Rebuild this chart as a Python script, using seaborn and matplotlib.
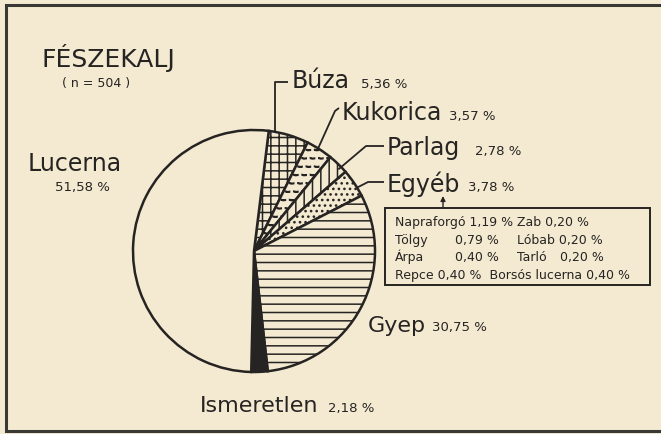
import numpy as np
import matplotlib
matplotlib.use("Agg")
import matplotlib.pyplot as plt
import matplotlib.hatch as mhatch
from matplotlib.path import Path
from matplotlib.patches import Rectangle
import seaborn as sns

# ---------------- data ----------------
categories = ["Búza", "Kukorica", "Parlag", "Egyéb", "Gyep", "Ismeretlen", "Lucerna"]
values = [5.36, 3.57, 2.78, 3.78, 30.75, 2.18, 51.58]
value_labels = ["5,36 %", "3,57 %", "2,78 %", "3,78 %", "30,75 %", "2,18 %", "51,58 %"]
other_names = ["Napraforgó", "Tölgy", "Árpa", "Repce", "Zab", "Lóbab", "Tarló", "Borsós lucerna"]
other_labels = ["1,19 %", "0,79 %", "0,40 %", "0,40 %", "0,20 %", "0,20 %", "0,20 %", "0,40 %"]
title = "FÉSZEKALJ"
subtitle = "( n = 504 )"

# ---------------- style ----------------
sns.set_theme(style="white")
BG = "#f4ead2"
INK = "#262422"
plt.rcParams["font.family"] = ["DejaVu Sans"]
plt.rcParams["hatch.linewidth"] = 1.1
plt.rcParams["hatch.color"] = INK


# custom "short dash" hatch used for the Kukorica wedge (replaces the star hatch)
class DashHatch(mhatch.Shapes):
    filled = True
    size = 0.5

    def __init__(self, hatch, density):
        self.num_rows = int(hatch.count("*") * density)
        self.shape_vertices = np.array([[-0.5, -0.02], [-0.1, -0.14], [0.5, -0.08],
                                        [0.5, 0.06], [0.1, 0.0], [-0.5, 0.12],
                                        [-0.5, -0.02]])
        self.shape_codes = np.array([Path.MOVETO] + [Path.LINETO] * 5 + [Path.CLOSEPOLY],
                                    dtype=Path.code_type)
        super().__init__(hatch, density)


mhatch._hatch_types = [DashHatch if t is mhatch.Stars else t for t in mhatch._hatch_types]

W, H = 661, 434
fig = plt.figure(figsize=(W / 100, H / 100), dpi=100, facecolor=BG)
ax = fig.add_axes([0, 0, 1, 1])
ax.set_facecolor(BG)


def Y(y):
    return H - y


CX, CY, R = 254, Y(251), 121
fills = [BG, BG, BG, BG, BG, INK, BG]
hatches = ["++", "**", "||", "...", "--", None, None]

wedges, _ = ax.pie(values, colors=fills, startangle=83, counterclock=False,
                   center=(CX, CY), radius=R,
                   wedgeprops=dict(edgecolor=INK, linewidth=1.8))
for w, h in zip(wedges, hatches):
    if h:
        w.set_hatch(h)

ax.set_xlim(0, W)
ax.set_ylim(0, H)
ax.set_aspect("equal")
ax.axis("off")


def wedge_point(i, frac, rfac=1.0):
    w = wedges[i]
    t = np.deg2rad(w.theta1 + frac * (w.theta2 - w.theta1))
    return CX + R * rfac * np.cos(t), CY + R * rfac * np.sin(t)


small = dict(fontsize=9.5, color=INK)

# leader lines: (wedge, fraction along wedge, radius factor, path in image coords)
leaders = [
    (0, 0.84, 1.0, [("s", 82), (288, 82)]),
    (1, 0.55, 0.99, [(335, 111), (339, 108)]),
    (2, 0.32, 0.97, [(366, 146), (384, 146)]),
    (3, 0.32, 1.0, [(368, 182), (384, 182)]),
]
for i, frac, rf, pts in leaders:
    sx, sy = wedge_point(i, frac, rf)
    xs, ys = [sx], [sy]
    for px, py in pts:
        xs.append(sx if px == "s" else px)
        ys.append(Y(py))
    ax.plot(xs, ys, color=INK, lw=1.3, solid_capstyle="butt")

# labels: name x, name baseline, pct x, pct baseline, name font size
label_pos = {
    0: (292, 88, 361, 88, 17),
    1: (342, 120, 449, 120, 17),
    2: (387, 155, 475, 155, 17),
    3: (387, 192, 468, 191, 17),
    4: (368, 332, 432, 331, 16),
    5: (200, 412, 328, 412, 16),
}
for i, (nx, ny, px, py, fs) in label_pos.items():
    ax.text(nx, Y(ny), categories[i], va="baseline", ha="left", fontsize=fs, color=INK)
    ax.text(px, Y(py), value_labels[i], va="baseline", ha="left", **small)

# Lucerna
ax.text(28, Y(171), categories[6], va="baseline", ha="left", fontsize=17, color=INK)
ax.text(55, Y(191), value_labels[6], va="baseline", ha="left", **small)

# title
ax.text(42, Y(67), title, va="baseline", ha="left", fontsize=18, color=INK)
ax.text(62, Y(87), subtitle, va="baseline", ha="left", fontsize=9, color=INK)

# box with the other categories
ax.add_patch(Rectangle((385, Y(285)), 265, 77, fill=False, edgecolor=INK, lw=1.4))
ax.annotate("", xy=(443, Y(196)), xytext=(443, Y(208)),
            arrowprops=dict(arrowstyle="-|>", color=INK, lw=1.0,
                            mutation_scale=7, shrinkA=0, shrinkB=0))
bs = dict(fontsize=9, color=INK, va="baseline", ha="left")
ax.text(395, Y(226), f"{other_names[0]} {other_labels[0]}", **bs)
ax.text(395, Y(244), other_names[1], **bs)
ax.text(455, Y(244), other_labels[1], **bs)
ax.text(395, Y(261), other_names[2], **bs)
ax.text(455, Y(261), other_labels[2], **bs)
ax.text(395, Y(279), f"{other_names[3]} {other_labels[3]}  {other_names[7]} {other_labels[7]}", **bs)
ax.text(517, Y(226), f"{other_names[4]} {other_labels[4]}", **bs)
ax.text(517, Y(244), f"{other_names[5]} {other_labels[5]}", **bs)
ax.text(517, Y(261), other_names[6], **bs)
ax.text(560, Y(261), other_labels[6], **bs)

# frame (top, left, bottom)
ax.plot([W, 6, 6, W], [Y(5), Y(5), Y(431), Y(431)], color="#3a3835", lw=2.2,
        solid_joinstyle="miter")

fig.savefig("out.png", dpi=100, facecolor=BG)
